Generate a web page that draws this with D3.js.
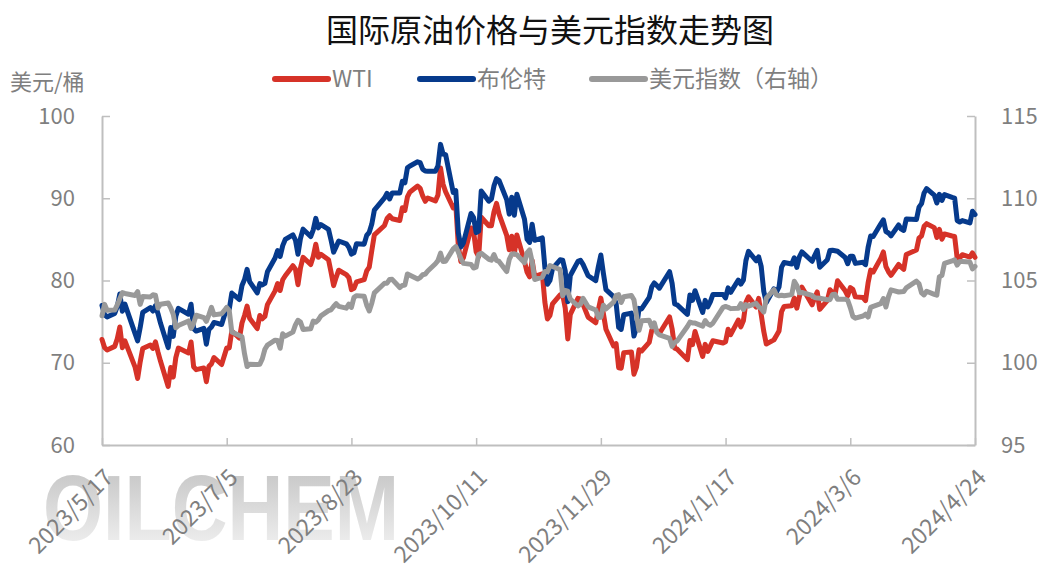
<!DOCTYPE html>
<html>
<head>
<meta charset="utf-8">
<script src="https://cdn.jsdelivr.net/npm/d3@7"></script>
<style>
  body { margin: 0; background: #fff; }
  svg { display: block; }
  text { font-family: "Noto Sans CJK SC", "Noto Sans", sans-serif; }
</style>
</head>
<body>
<div id="my_dataviz"></div>
<script>
// trading days (one line per month)
const dates = [
  "2023/5/17","2023/5/18","2023/5/19","2023/5/22","2023/5/23","2023/5/24","2023/5/25","2023/5/26","2023/5/30","2023/5/31",
  "2023/6/1","2023/6/2","2023/6/5","2023/6/6","2023/6/7","2023/6/8","2023/6/9","2023/6/12","2023/6/13","2023/6/14","2023/6/15","2023/6/16","2023/6/20","2023/6/21","2023/6/22","2023/6/23","2023/6/26","2023/6/27","2023/6/28","2023/6/29","2023/6/30",
  "2023/7/3","2023/7/5","2023/7/6","2023/7/7","2023/7/10","2023/7/11","2023/7/12","2023/7/13","2023/7/14","2023/7/17","2023/7/18","2023/7/19","2023/7/20","2023/7/21","2023/7/24","2023/7/25","2023/7/26","2023/7/27","2023/7/28","2023/7/31",
  "2023/8/1","2023/8/2","2023/8/3","2023/8/4","2023/8/7","2023/8/8","2023/8/9","2023/8/10","2023/8/11","2023/8/14","2023/8/15","2023/8/16","2023/8/17","2023/8/18","2023/8/21","2023/8/22","2023/8/23","2023/8/24","2023/8/25","2023/8/28","2023/8/29","2023/8/30","2023/8/31",
  "2023/9/1","2023/9/5","2023/9/6","2023/9/7","2023/9/8","2023/9/11","2023/9/12","2023/9/13","2023/9/14","2023/9/15","2023/9/18","2023/9/19","2023/9/20","2023/9/21","2023/9/22","2023/9/25","2023/9/26","2023/9/27","2023/9/28","2023/9/29",
  "2023/10/2","2023/10/3","2023/10/4","2023/10/5","2023/10/6","2023/10/9","2023/10/10","2023/10/11","2023/10/12","2023/10/13","2023/10/16","2023/10/17","2023/10/18","2023/10/19","2023/10/20","2023/10/23","2023/10/24","2023/10/25","2023/10/26","2023/10/27","2023/10/30","2023/10/31",
  "2023/11/1","2023/11/2","2023/11/3","2023/11/6","2023/11/7","2023/11/8","2023/11/9","2023/11/10","2023/11/13","2023/11/14","2023/11/15","2023/11/16","2023/11/17","2023/11/20","2023/11/21","2023/11/22","2023/11/24","2023/11/27","2023/11/28","2023/11/29","2023/11/30",
  "2023/12/1","2023/12/4","2023/12/5","2023/12/6","2023/12/7","2023/12/8","2023/12/11","2023/12/12","2023/12/13","2023/12/14","2023/12/15","2023/12/18","2023/12/19","2023/12/20","2023/12/21","2023/12/22","2023/12/26","2023/12/27","2023/12/28","2023/12/29",
  "2024/1/2","2024/1/3","2024/1/4","2024/1/5","2024/1/8","2024/1/9","2024/1/10","2024/1/11","2024/1/12","2024/1/16","2024/1/17","2024/1/18","2024/1/19","2024/1/22","2024/1/23","2024/1/24","2024/1/25","2024/1/26","2024/1/29","2024/1/30","2024/1/31",
  "2024/2/1","2024/2/2","2024/2/5","2024/2/6","2024/2/7","2024/2/8","2024/2/9","2024/2/12","2024/2/13","2024/2/14","2024/2/15","2024/2/16","2024/2/20","2024/2/21","2024/2/22","2024/2/23","2024/2/26","2024/2/27","2024/2/28","2024/2/29",
  "2024/3/1","2024/3/4","2024/3/5","2024/3/6","2024/3/7","2024/3/8","2024/3/11","2024/3/12","2024/3/13","2024/3/14","2024/3/15","2024/3/18","2024/3/19","2024/3/20","2024/3/21","2024/3/22","2024/3/25","2024/3/26","2024/3/27","2024/3/28",
  "2024/4/1","2024/4/2","2024/4/3","2024/4/4","2024/4/5","2024/4/8","2024/4/9","2024/4/10","2024/4/11","2024/4/12","2024/4/15","2024/4/16","2024/4/17","2024/4/18","2024/4/19","2024/4/22","2024/4/23","2024/4/24"
];

// WTI, USD/bbl
const wti = [
  72.83,71.86,71.55,71.99,72.91,74.34,71.83,72.67,69.46,68.09,
  70.10,71.74,72.15,71.74,72.53,71.29,70.17,67.12,69.42,68.27,70.62,71.78,71.19,72.53,69.51,69.16,69.37,67.70,69.56,69.86,70.64,
  69.79,71.79,71.80,73.86,72.99,74.83,75.75,76.89,75.42,74.15,75.75,75.35,75.63,77.07,78.74,79.63,78.78,80.09,80.58,81.80,
  81.37,79.49,81.55,82.82,81.94,82.92,84.40,82.82,83.19,82.51,80.99,79.38,80.39,81.25,80.72,80.35,78.89,79.05,79.83,80.10,81.16,81.63,83.63,
  85.55,86.69,87.54,87.87,87.51,87.29,88.84,88.52,90.16,90.77,91.48,91.20,90.28,89.63,90.03,89.68,90.39,93.68,91.71,90.79,
  88.82,89.23,84.22,82.31,82.79,86.38,85.97,83.49,82.91,87.69,86.66,86.66,88.32,89.37,88.08,85.49,83.74,85.39,83.21,85.54,82.31,81.02,
  80.44,82.46,80.51,80.82,77.37,75.33,75.74,77.17,78.26,78.26,76.66,72.90,75.89,77.83,77.77,77.10,75.54,74.86,76.41,77.86,75.96,
  74.07,72.04,72.32,69.38,69.34,71.23,71.32,68.61,69.47,71.58,71.43,72.47,73.94,74.22,73.89,73.56,75.57,74.11,71.77,71.65,
  70.38,72.70,72.19,73.81,70.77,72.24,71.37,72.02,72.68,72.40,72.56,74.08,73.41,75.19,74.37,75.09,77.36,78.01,76.78,77.82,75.85,
  73.82,72.28,72.78,73.31,73.86,76.22,76.84,76.92,77.87,76.64,78.03,79.19,77.04,77.91,78.61,76.49,77.58,78.87,78.54,78.26,
  79.97,78.74,78.15,79.13,78.93,78.01,77.93,77.56,79.72,81.26,81.04,82.72,83.47,81.68,81.07,80.63,81.95,81.62,81.35,83.17,
  83.71,85.15,85.43,86.59,86.91,86.43,85.23,86.21,85.02,85.66,85.41,85.36,82.69,82.73,83.14,82.85,83.36,82.81
];

// Brent, USD/bbl
const brent = [
  76.96,75.86,75.58,75.99,76.84,78.36,76.26,77.12,73.54,72.66,
  74.28,76.13,76.71,76.29,76.95,75.96,74.79,71.84,74.29,73.20,75.67,76.61,75.90,77.12,74.14,73.85,74.18,72.26,74.03,74.34,74.90,
  74.65,76.65,76.52,78.47,77.69,79.40,80.11,81.36,79.87,78.50,79.63,79.46,79.64,81.07,82.74,83.64,82.92,84.24,84.99,85.56,
  84.91,83.20,85.14,86.24,85.34,86.17,87.55,86.40,86.81,86.21,84.89,83.45,84.12,84.80,84.46,84.03,83.21,83.36,84.48,84.42,85.49,85.86,86.86,
  88.55,90.04,90.60,89.92,90.65,90.64,92.06,91.88,93.70,93.93,94.43,94.34,93.53,93.30,93.27,93.29,93.96,96.55,95.38,95.31,
  90.71,90.92,85.81,84.07,84.58,88.15,87.65,85.82,86.00,90.89,89.65,89.90,91.50,92.38,92.16,89.83,88.07,90.13,87.93,90.48,87.45,85.02,
  84.63,86.85,84.89,85.18,81.61,79.54,80.01,81.43,82.52,82.47,81.18,77.42,80.61,82.32,82.45,81.96,80.58,79.98,81.68,83.10,80.86,
  78.88,78.03,77.20,74.30,74.05,75.84,76.03,73.24,74.26,76.61,76.55,77.95,79.23,79.70,79.39,79.07,81.07,79.65,77.15,77.04,
  75.89,78.25,77.59,78.76,76.12,77.59,76.80,77.41,78.29,78.29,77.88,79.10,78.56,80.06,79.55,80.04,82.43,83.55,82.40,82.87,81.71,
  78.70,77.33,78.99,78.59,79.21,81.63,82.19,82.00,82.77,81.60,82.86,83.47,82.34,83.03,83.67,81.62,82.53,83.65,83.68,83.62,
  83.55,82.80,82.04,82.96,82.96,82.08,82.21,81.92,84.03,85.42,85.34,86.89,87.38,85.95,85.78,85.43,86.75,86.25,86.09,87.48,
  87.42,88.92,89.35,90.65,91.17,90.38,89.42,90.48,89.74,90.45,90.10,90.02,87.29,87.11,87.29,87.00,88.42,88.02
];

// US dollar index (right axis)
const dxy = [
  102.86,103.55,103.19,103.20,103.52,103.89,104.26,104.21,104.09,104.33,
  103.55,104.02,104.00,104.13,104.11,103.33,103.56,103.63,103.34,102.94,102.13,102.26,102.54,102.09,102.40,102.89,102.74,102.52,102.91,103.37,102.91,
  102.98,103.36,103.17,101.87,101.65,101.58,100.54,99.77,99.91,99.89,99.91,100.25,100.82,101.07,101.37,101.35,100.88,101.76,101.62,101.86,
  102.30,102.58,102.47,102.02,102.07,102.53,102.47,102.61,102.85,103.17,103.22,103.42,103.59,103.43,103.32,103.57,103.36,103.98,104.08,104.04,103.50,103.15,103.62,
  104.25,104.83,104.84,105.06,105.07,104.57,104.70,104.73,105.40,105.32,105.09,105.18,105.35,105.39,105.58,106.02,106.21,106.66,106.15,106.17,
  106.92,107.06,106.73,106.33,106.04,105.98,105.76,105.81,106.58,106.66,106.29,106.24,106.58,106.22,106.16,105.54,106.28,106.60,106.63,106.56,106.08,106.68,
  106.86,106.14,105.06,105.20,105.55,105.53,105.91,105.85,105.66,104.08,104.39,104.35,103.87,103.45,103.56,103.92,103.40,103.21,102.75,102.77,103.50,
  103.27,103.68,104.10,104.14,103.66,104.01,104.09,103.83,102.88,101.97,102.56,102.58,102.18,102.42,101.84,101.70,101.48,100.99,101.23,101.33,
  102.20,102.47,102.42,102.41,102.23,102.56,102.36,102.28,102.40,103.37,103.42,103.37,103.29,103.32,103.59,103.24,103.53,103.44,103.61,103.40,103.28,
  103.08,103.92,104.45,104.12,104.07,104.10,104.07,104.14,104.96,104.70,104.25,104.27,104.09,103.96,103.93,103.92,103.83,103.83,104.15,104.16,
  103.86,103.86,103.80,103.35,102.82,102.71,102.84,102.95,102.78,103.37,103.43,103.59,103.90,103.39,104.02,104.43,104.30,104.32,104.33,104.55,
  104.96,104.80,104.25,104.12,104.35,104.16,104.11,105.23,105.30,106.04,106.19,106.26,105.94,106.15,106.15,106.12,105.71,105.85
];

const xTickLabels = ["2023/5/17","2023/7/5","2023/8/23","2023/10/11","2023/11/29","2024/1/17","2024/3/6","2024/4/24"];
const leftTicks = [60, 70, 80, 90, 100];
const rightTicks = [95, 100, 105, 110, 115];

const W = 1045, H = 571;
const plot = {left: 102, right: 975, top: 116, bottom: 445};
const axisColor = "#bfbfbf", labelColor = "#7f7f7f";

const parse = d3.timeParse("%Y/%m/%d");
const days = dates.map(parse);

const svg = d3.select("#my_dataviz")
  .append("svg")
    .attr("width", W)
    .attr("height", H);

svg.append("rect").attr("width", W).attr("height", H).attr("fill", "#fff");

// watermark
const grad = svg.append("defs").append("linearGradient")
  .attr("id", "wm").attr("x1", 0).attr("y1", 0).attr("x2", 0).attr("y2", 1);
grad.append("stop").attr("offset", "0%").attr("stop-color", "#c0c0c0");
grad.append("stop").attr("offset", "60%").attr("stop-color", "#e0e0e0");
grad.append("stop").attr("offset", "100%").attr("stop-color", "#f6f6f6");
svg.append("text")
  .attr("x", 43).attr("y", 540)
  .attr("textLength", 356).attr("lengthAdjust", "spacingAndGlyphs")
  .style("font-family", "'Liberation Sans', Arial, sans-serif")
  .style("font-weight", "bold")
  .style("font-size", "93px")
  .attr("fill", "url(#wm)")
  .text("OILCHEM");

// scales
const x = d3.scaleTime()
  .domain([parse(xTickLabels[0]), parse(xTickLabels[xTickLabels.length - 1])])
  .range([plot.left, plot.right]);
const yL = d3.scaleLinear().domain([60, 100]).range([plot.bottom, plot.top]);
const yR = d3.scaleLinear().domain([95, 115]).range([plot.bottom, plot.top]);

// axes
const fmt = d3.timeFormat("%Y/%-m/%-d");
const xAxis = svg.append("g")
  .attr("transform", `translate(0,${plot.bottom})`)
  .call(d3.axisBottom(x).tickValues(xTickLabels.map(parse)).tickSizeInner(-7).tickSizeOuter(0).tickFormat(fmt));

const yAxisL = svg.append("g")
  .attr("transform", `translate(${plot.left},0)`)
  .call(d3.axisLeft(yL).tickValues(leftTicks).tickSizeInner(-8).tickSizeOuter(0).tickPadding(27));
const yAxisR = svg.append("g")
  .attr("transform", `translate(${plot.right},0)`)
  .call(d3.axisRight(yR).tickValues(rightTicks).tickSizeInner(-8).tickSizeOuter(0).tickPadding(26));

[xAxis, yAxisL, yAxisR].forEach(g => {
  g.select(".domain").attr("stroke", axisColor).attr("stroke-width", 2);
  g.selectAll(".tick line").attr("stroke", axisColor).attr("stroke-width", 1.5);
  g.selectAll("text")
    .attr("fill", labelColor)
    .style("font-size", "22px")
    .style("font-family", "'Noto Sans CJK SC', 'Noto Sans', sans-serif");
});

// rotated date labels
xAxis.selectAll("text")
  .attr("x", null).attr("y", null).attr("dy", null)
  .style("text-anchor", "end")
  .style("font-size", "23px")
  .attr("transform", "translate(12,34) rotate(-45)");

// lines
const series = [
  {name: "WTI", values: wti, color: "#d63228", y: yL},
  {name: "布伦特", values: brent, color: "#063a8c", y: yL},
  {name: "美元指数（右轴）", values: dxy, color: "#999999", y: yR}
];

series.forEach(s => {
  const line = d3.line()
    .x((d, i) => x(days[i]))
    .y(d => s.y(d));
  svg.append("path")
    .datum(s.values)
    .attr("fill", "none")
    .attr("stroke", s.color)
    .attr("stroke-width", 5)
    .attr("stroke-linejoin", "round")
    .attr("stroke-linecap", "round")
    .attr("d", line);
});

// title
svg.append("text")
  .attr("x", 550).attr("y", 42)
  .style("text-anchor", "middle")
  .style("font-size", "32px")
  .attr("fill", "#111")
  .text("国际原油价格与美元指数走势图");

// unit label
svg.append("text")
  .attr("x", 10).attr("y", 90)
  .style("font-size", "22px")
  .attr("fill", labelColor)
  .text("美元/桶");

// legend
const legendX = [273, 418, 590];
series.forEach((s, i) => {
  const g = svg.append("g").attr("transform", `translate(${legendX[i]},79)`);
  g.append("line")
    .attr("x1", 2).attr("x2", 55)
    .attr("stroke", s.color)
    .attr("stroke-width", 6)
    .attr("stroke-linecap", "round");
  g.append("text")
    .attr("x", 59).attr("y", 8)
    .style("font-size", "23px")
    .attr("fill", labelColor)
    .text(s.name);
});
</script>
</body>
</html>
